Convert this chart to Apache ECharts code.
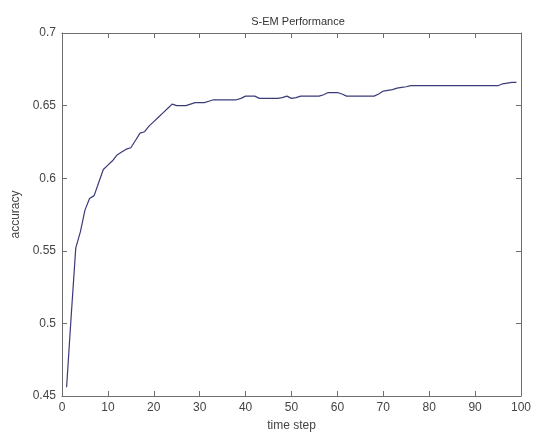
<!DOCTYPE html>
<html>
<head>
<meta charset="utf-8">
<script src="https://cdn.jsdelivr.net/npm/echarts@6/dist/echarts.min.js"></script>
<style>
    html, body { margin: 0; padding: 0; background: #fff; }
    #chart { width: 534px; height: 437px; }
</style>
</head>
<body>
<div id="chart"></div>
<script>
// accuracy at time steps 1..99
var steps = [];
for (var i = 1; i <= 99; i++) steps.push(i);

var accuracy = [
    0.456, 0.505, 0.552, 0.563, 0.578, 0.586, 0.588, 0.597, 0.606, 0.609,
    0.612, 0.616, 0.618, 0.620, 0.621, 0.626, 0.631, 0.632, 0.636, 0.639,
    0.642, 0.645, 0.648, 0.651, 0.650, 0.650, 0.650, 0.651, 0.652, 0.652,
    0.652, 0.653, 0.654, 0.654, 0.654, 0.654, 0.654, 0.654, 0.655, 0.6565,
    0.6565, 0.6565, 0.655, 0.655, 0.655, 0.655, 0.655, 0.6555, 0.6565, 0.655,
    0.6555, 0.6565, 0.6565, 0.6565, 0.6565, 0.6565, 0.6575, 0.659, 0.659, 0.659,
    0.658, 0.6565, 0.6565, 0.6565, 0.6565, 0.6565, 0.6565, 0.6565, 0.658, 0.660,
    0.6605, 0.661, 0.662, 0.6625, 0.663, 0.6637, 0.6637, 0.6637, 0.6637, 0.6637,
    0.6637, 0.6637, 0.6637, 0.6637, 0.6637, 0.6637, 0.6637, 0.6637, 0.6637, 0.6637,
    0.6637, 0.6637, 0.6637, 0.6637, 0.6637, 0.665, 0.6655, 0.666, 0.666
];

var titleText = 'S-EM Performance';
var xName = 'time step';
var yName = 'accuracy';

var myChart = echarts.init(document.getElementById('chart'));

var axisColor = '#6e6e6e';
var labelColor = '#444';
var font = 'Liberation Sans, Arial, sans-serif';

var points = steps.map(function (t, k) { return [t, accuracy[k]]; });

var baseX = {
    type: 'value', min: 0, max: 100, interval: 10,
    axisLine: { show: true, onZero: false, lineStyle: { color: axisColor, width: 1 } },
    axisTick: { show: true, inside: true, length: 5, lineStyle: { color: axisColor } },
    splitLine: { show: false }
};
var baseY = {
    type: 'value', min: 0.45, max: 0.7, interval: 0.05,
    axisLine: { show: true, onZero: false, lineStyle: { color: axisColor, width: 1 } },
    axisTick: { show: true, inside: true, length: 5, lineStyle: { color: axisColor } },
    splitLine: { show: false }
};

var option = {
    backgroundColor: '#fff',
    animation: false,
    title: {
        text: titleText,
        left: 293, top: 11, textAlign: 'center',
        textStyle: { fontSize: 11, fontWeight: 'normal', color: '#333', fontFamily: font }
    },
    grid: { left: 62, right: 9, top: 33, bottom: 41 },
    xAxis: [
        Object.assign({}, baseX, {
            position: 'bottom',
            name: xName, nameLocation: 'middle', nameGap: 24,
            nameTextStyle: { fontSize: 12, color: labelColor, fontFamily: font },
            axisLabel: { color: labelColor, fontSize: 12, margin: 6, fontFamily: font }
        }),
        Object.assign({}, baseX, { position: 'top', axisLabel: { show: false } })
    ],
    yAxis: [
        Object.assign({}, baseY, {
            position: 'left',
            name: yName, nameLocation: 'middle', nameGap: 37, nameRotate: 90,
            nameTextStyle: { fontSize: 12, color: labelColor, fontFamily: font },
            axisLabel: { color: labelColor, fontSize: 12, margin: 6, fontFamily: font }
        }),
        Object.assign({}, baseY, { position: 'right', axisLabel: { show: false } })
    ],
    series: [{
        type: 'line',
        data: points,
        showSymbol: false,
        lineStyle: { color: '#3b3b78', width: 1.2 }
    }]
};

myChart.setOption(option);
</script>
</body>
</html>
